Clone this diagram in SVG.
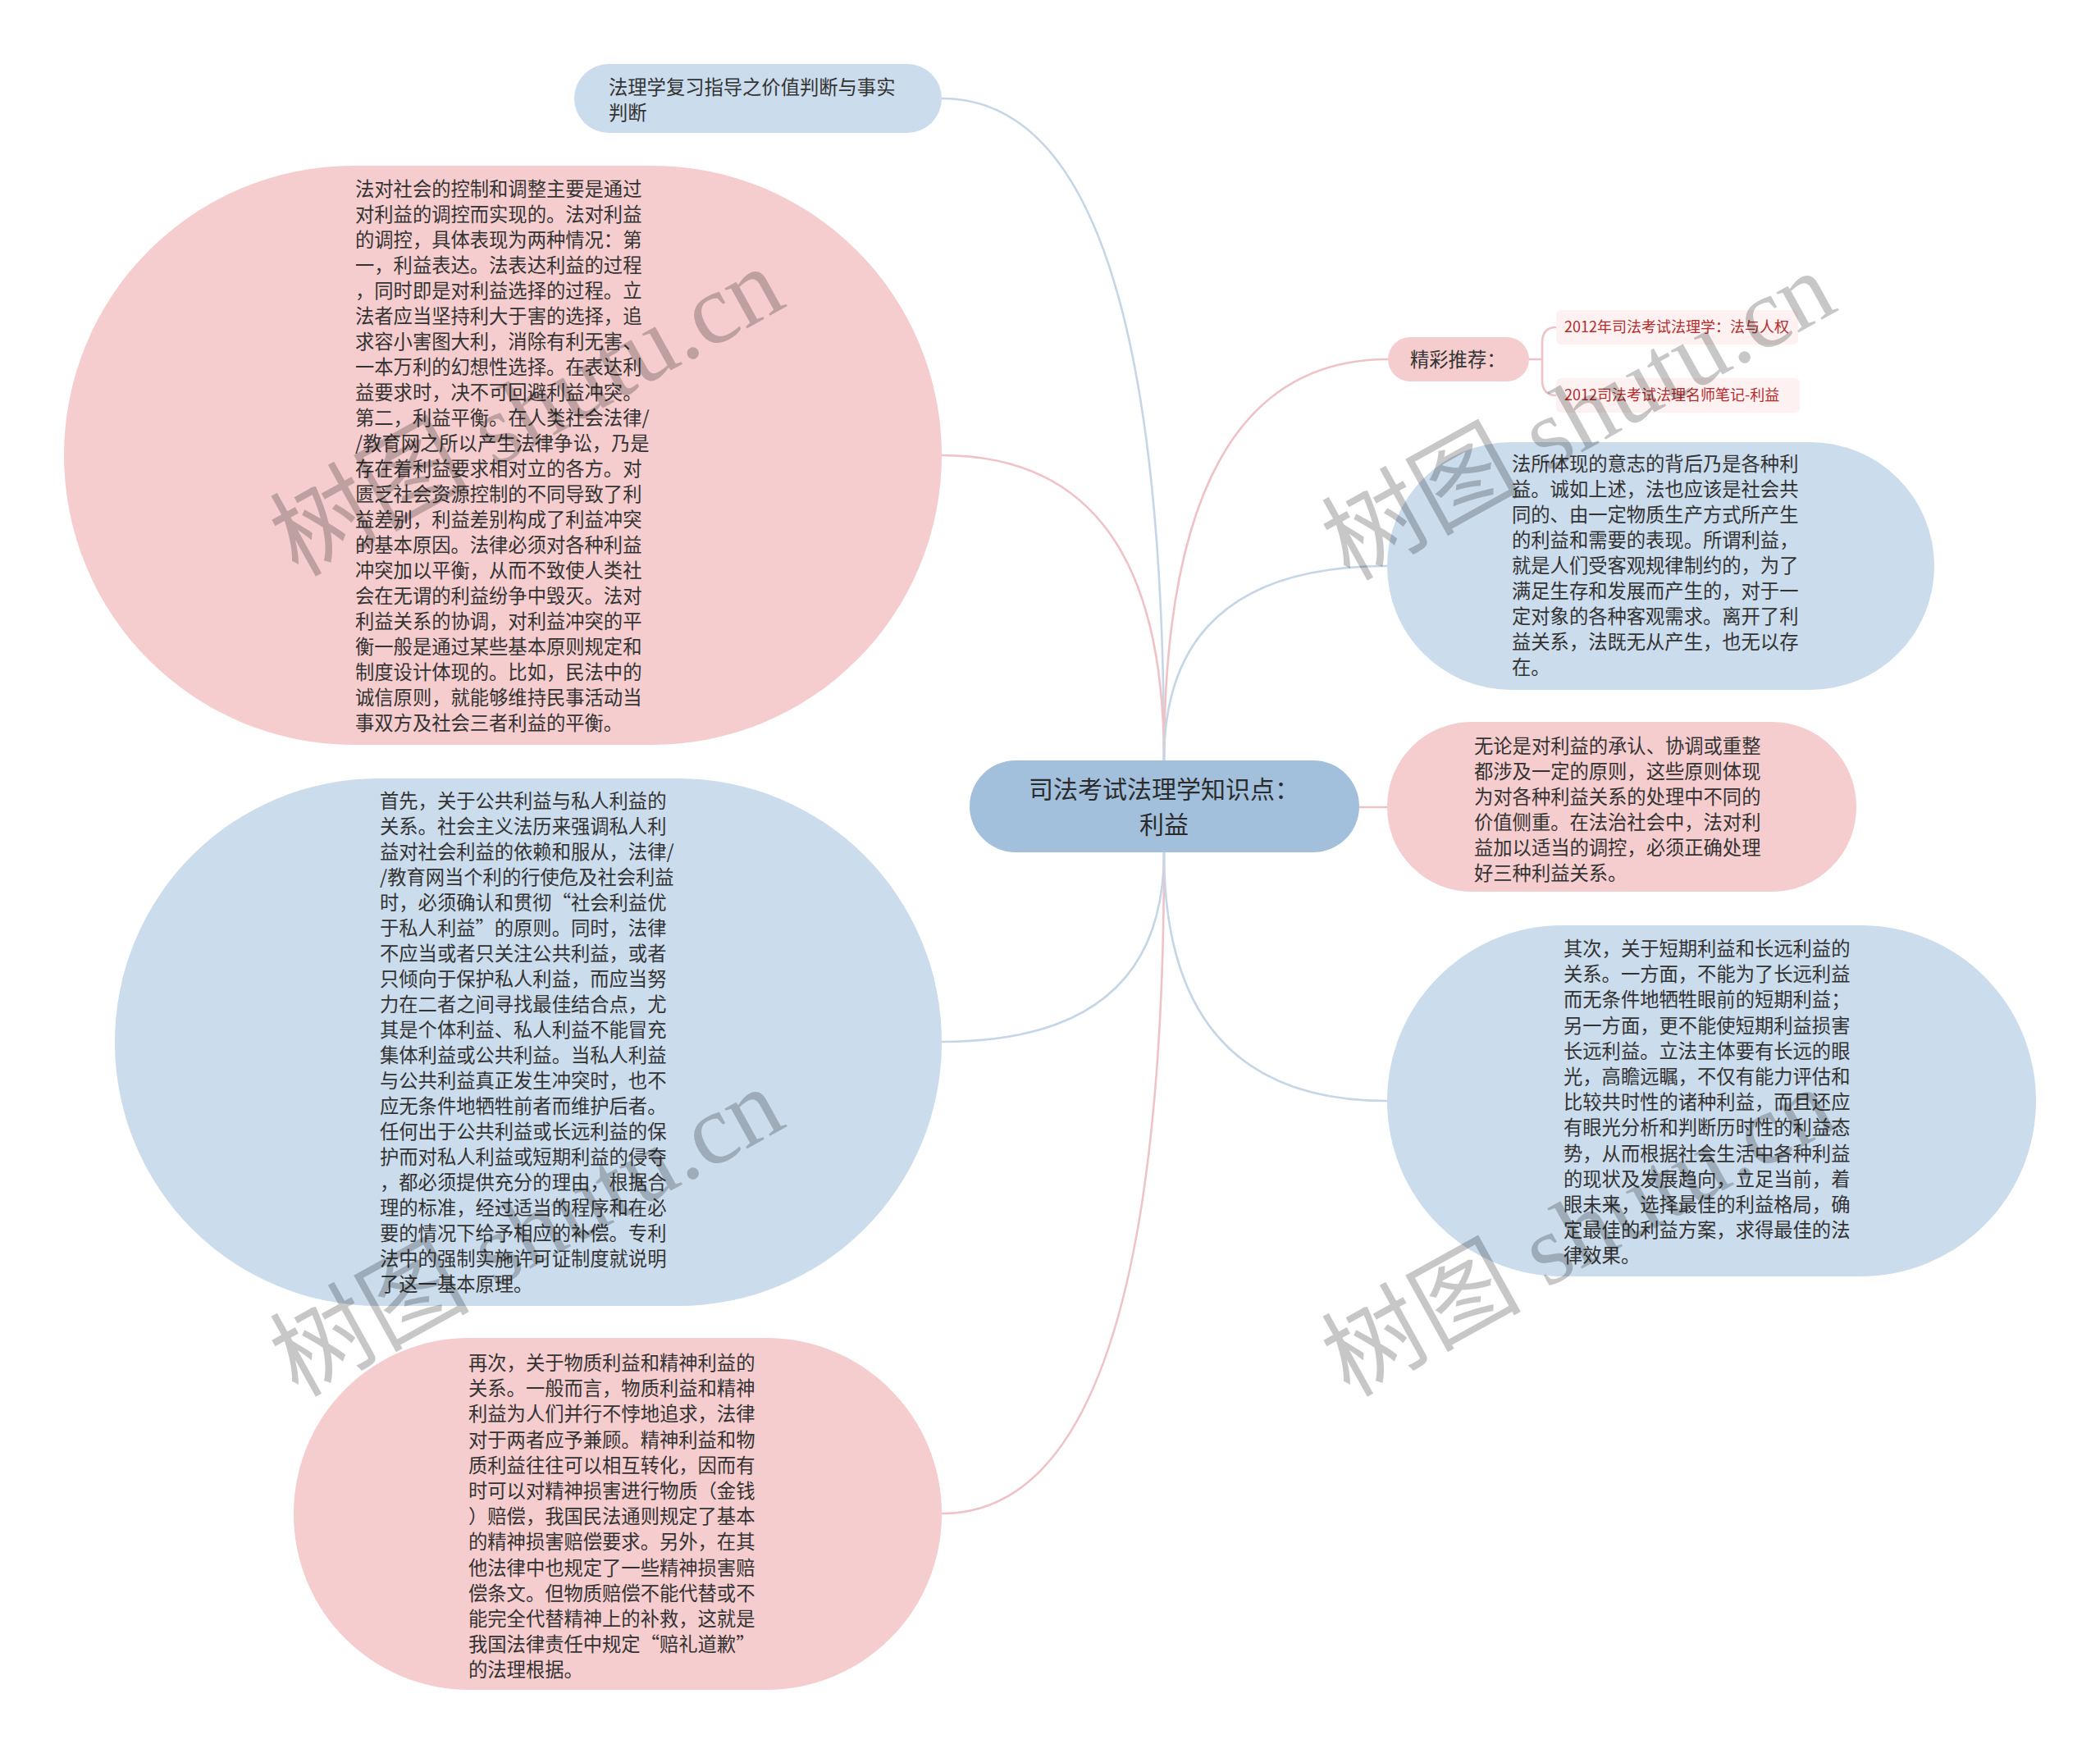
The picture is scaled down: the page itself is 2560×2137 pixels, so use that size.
<svg xmlns="http://www.w3.org/2000/svg" width="2560" height="2137" viewBox="0 0 2560 2137">
<style>
.t{font-family:"Noto Sans CJK SC","Noto Sans",sans-serif;font-size:23.3px;fill:#333333;}
.c{font-family:"Noto Sans CJK SC","Noto Sans",sans-serif;font-size:30px;fill:#2b2b2b;text-anchor:middle;}
.lk{font-family:"Noto Sans CJK SC","Noto Sans",sans-serif;font-size:18px;fill:#b52b2b;}
.blue{fill:#cbdcec;}
.pink{fill:#f5cdce;}
.lb{fill:none;stroke:#c6d6e6;stroke-width:2.6;}
.lp{fill:none;stroke:#efc3c5;stroke-width:2.6;}
.wm{font-family:"Liberation Serif","Noto Sans CJK SC",serif;font-size:122px;fill:#000000;fill-opacity:0.22;text-anchor:middle;}
</style>
<rect width="2560" height="2137" fill="#ffffff"/>
<g id="connectors">
<path class="lb" d="M1419 927 Q1419 120 1148 120"/>
<path class="lp" d="M1419 927 Q1419 555 1148 555"/>
<path class="lb" d="M1419 1039 Q1419 1270 1148 1270"/>
<path class="lp" d="M1419 1039 Q1419 1845 1148 1845"/>
<path class="lp" d="M1419 927 Q1419 438 1692 438"/>
<path class="lb" d="M1419 927 Q1419 690 1691 690"/>
<path class="lp" d="M1657 984 L1691 984"/>
<path class="lb" d="M1419 1039 Q1419 1342 1691 1342"/>
<path class="lp" d="M1864 438 L1880 438 M1897 399 Q1880 399 1880 418 L1880 463 Q1880 482 1897 482"/>
</g>
<g id="node-center">
<rect x="1182" y="927" width="475" height="112" rx="56" fill="#a2bfdb"/>
<text class="c" x="1419" y="973">司法考试法理学知识点：</text>
<text class="c" x="1419" y="1016">利益</text>
</g>
<g id="node-top">
<rect class="blue" x="700" y="78" width="448" height="84" rx="42"/>
<text class="t" x="742" y="115">法理学复习指导之价值判断与事实<tspan x="742" dy="31">判断</tspan></text>
</g>
<g id="node-left-1">
<rect class="pink" x="78" y="202" width="1070" height="706" rx="353"/>
<text class="t" x="433" y="239">法对社会的控制和调整主要是通过<tspan x="433" dy="31">对利益的调控而实现的。法对利益</tspan><tspan x="433" dy="31">的调控，具体表现为两种情况：第</tspan><tspan x="433" dy="31">一，利益表达。法表达利益的过程</tspan><tspan x="433" dy="31">，同时即是对利益选择的过程。立</tspan><tspan x="433" dy="31">法者应当坚持利大于害的选择，追</tspan><tspan x="433" dy="31">求容小害图大利，消除有利无害、</tspan><tspan x="433" dy="31">一本万利的幻想性选择。在表达利</tspan><tspan x="433" dy="31">益要求时，决不可回避利益冲突。</tspan><tspan x="433" dy="31">第二，利益平衡。在人类社会法律/</tspan><tspan x="433" dy="31">/教育网之所以产生法律争讼，乃是</tspan><tspan x="433" dy="31">存在着利益要求相对立的各方。对</tspan><tspan x="433" dy="31">匮乏社会资源控制的不同导致了利</tspan><tspan x="433" dy="31">益差别，利益差别构成了利益冲突</tspan><tspan x="433" dy="31">的基本原因。法律必须对各种利益</tspan><tspan x="433" dy="31">冲突加以平衡，从而不致使人类社</tspan><tspan x="433" dy="31">会在无谓的利益纷争中毁灭。法对</tspan><tspan x="433" dy="31">利益关系的协调，对利益冲突的平</tspan><tspan x="433" dy="31">衡一般是通过某些基本原则规定和</tspan><tspan x="433" dy="31">制度设计体现的。比如，民法中的</tspan><tspan x="433" dy="31">诚信原则，就能够维持民事活动当</tspan><tspan x="433" dy="31">事双方及社会三者利益的平衡。</tspan></text>
</g>
<g id="node-left-2">
<rect class="blue" x="140" y="949" width="1008" height="643" rx="321"/>
<text class="t" x="463" y="985">首先，关于公共利益与私人利益的<tspan x="463" dy="31">关系。社会主义法历来强调私人利</tspan><tspan x="463" dy="31">益对社会利益的依赖和服从，法律/</tspan><tspan x="463" dy="31">/教育网当个利的行使危及社会利益</tspan><tspan x="463" dy="31">时，必须确认和贯彻“社会利益优</tspan><tspan x="463" dy="31">于私人利益”的原则。同时，法律</tspan><tspan x="463" dy="31">不应当或者只关注公共利益，或者</tspan><tspan x="463" dy="31">只倾向于保护私人利益，而应当努</tspan><tspan x="463" dy="31">力在二者之间寻找最佳结合点，尤</tspan><tspan x="463" dy="31">其是个体利益、私人利益不能冒充</tspan><tspan x="463" dy="31">集体利益或公共利益。当私人利益</tspan><tspan x="463" dy="31">与公共利益真正发生冲突时，也不</tspan><tspan x="463" dy="31">应无条件地牺牲前者而维护后者。</tspan><tspan x="463" dy="31">任何出于公共利益或长远利益的保</tspan><tspan x="463" dy="31">护而对私人利益或短期利益的侵夺</tspan><tspan x="463" dy="31">，都必须提供充分的理由，根据合</tspan><tspan x="463" dy="31">理的标准，经过适当的程序和在必</tspan><tspan x="463" dy="31">要的情况下给予相应的补偿。专利</tspan><tspan x="463" dy="31">法中的强制实施许可证制度就说明</tspan><tspan x="463" dy="31">了这一基本原理。</tspan></text>
</g>
<g id="node-left-3">
<rect class="pink" x="358" y="1631" width="790" height="429" rx="214"/>
<text class="t" x="571" y="1670">再次，关于物质利益和精神利益的<tspan x="571" dy="31.2">关系。一般而言，物质利益和精神</tspan><tspan x="571" dy="31.2">利益为人们并行不悖地追求，法律</tspan><tspan x="571" dy="31.2">对于两者应予兼顾。精神利益和物</tspan><tspan x="571" dy="31.2">质利益往往可以相互转化，因而有</tspan><tspan x="571" dy="31.2">时可以对精神损害进行物质（金钱</tspan><tspan x="571" dy="31.2">）赔偿，我国民法通则规定了基本</tspan><tspan x="571" dy="31.2">的精神损害赔偿要求。另外，在其</tspan><tspan x="571" dy="31.2">他法律中也规定了一些精神损害赔</tspan><tspan x="571" dy="31.2">偿条文。但物质赔偿不能代替或不</tspan><tspan x="571" dy="31.2">能完全代替精神上的补救，这就是</tspan><tspan x="571" dy="31.2">我国法律责任中规定“赔礼道歉”</tspan><tspan x="571" dy="31.2">的法理根据。</tspan></text>
</g>
<g id="node-recommend">
<rect class="pink" x="1692" y="411" width="172" height="54" rx="27"/>
<text class="t" x="1719" y="447">精彩推荐：</text>
</g>
<g id="link-1">
<rect x="1897" y="378" width="295" height="42" rx="6" fill="#fdf1f1"/>
<text class="lk" x="1907" y="405">2012年司法考试法理学：法与人权</text>
</g>
<g id="link-2">
<rect x="1897" y="461" width="297" height="42" rx="6" fill="#fdf1f1"/>
<text class="lk" x="1907" y="488">2012司法考试法理名师笔记-利益</text>
</g>
<g id="node-right-1">
<rect class="blue" x="1691" y="539" width="667" height="302" rx="151"/>
<text class="t" x="1843" y="574">法所体现的意志的背后乃是各种利<tspan x="1843" dy="31">益。诚如上述，法也应该是社会共</tspan><tspan x="1843" dy="31">同的、由一定物质生产方式所产生</tspan><tspan x="1843" dy="31">的利益和需要的表现。所谓利益，</tspan><tspan x="1843" dy="31">就是人们受客观规律制约的，为了</tspan><tspan x="1843" dy="31">满足生存和发展而产生的，对于一</tspan><tspan x="1843" dy="31">定对象的各种客观需求。离开了利</tspan><tspan x="1843" dy="31">益关系，法既无从产生，也无以存</tspan><tspan x="1843" dy="31">在。</tspan></text>
</g>
<g id="node-right-2">
<rect class="pink" x="1691" y="880" width="572" height="207" rx="103"/>
<text class="t" x="1797" y="918">无论是对利益的承认、协调或重整<tspan x="1797" dy="31">都涉及一定的原则，这些原则体现</tspan><tspan x="1797" dy="31">为对各种利益关系的处理中不同的</tspan><tspan x="1797" dy="31">价值侧重。在法治社会中，法对利</tspan><tspan x="1797" dy="31">益加以适当的调控，必须正确处理</tspan><tspan x="1797" dy="31">好三种利益关系。</tspan></text>
</g>
<g id="node-right-3">
<rect class="blue" x="1691" y="1128" width="791" height="428" rx="214"/>
<text class="t" x="1906" y="1165">其次，关于短期利益和长远利益的<tspan x="1906" dy="31.2">关系。一方面，不能为了长远利益</tspan><tspan x="1906" dy="31.2">而无条件地牺牲眼前的短期利益；</tspan><tspan x="1906" dy="31.2">另一方面，更不能使短期利益损害</tspan><tspan x="1906" dy="31.2">长远利益。立法主体要有长远的眼</tspan><tspan x="1906" dy="31.2">光，高瞻远瞩，不仅有能力评估和</tspan><tspan x="1906" dy="31.2">比较共时性的诸种利益，而且还应</tspan><tspan x="1906" dy="31.2">有眼光分析和判断历时性的利益态</tspan><tspan x="1906" dy="31.2">势，从而根据社会生活中各种利益</tspan><tspan x="1906" dy="31.2">的现状及发展趋向，立足当前，着</tspan><tspan x="1906" dy="31.2">眼未来，选择最佳的利益格局，确</tspan><tspan x="1906" dy="31.2">定最佳的利益方案，求得最佳的法</tspan><tspan x="1906" dy="31.2">律效果。</tspan></text>
</g>
<g id="watermarks">
<text class="wm" transform="translate(662 538) rotate(-29)">树图 shutu.cn</text>
<text class="wm" transform="translate(1944 543) rotate(-29)">树图 shutu.cn</text>
<text class="wm" transform="translate(662 1538) rotate(-29)">树图 shutu.cn</text>
<text class="wm" transform="translate(1944 1538) rotate(-29)">树图 shutu.cn</text>
</g>
</svg>
